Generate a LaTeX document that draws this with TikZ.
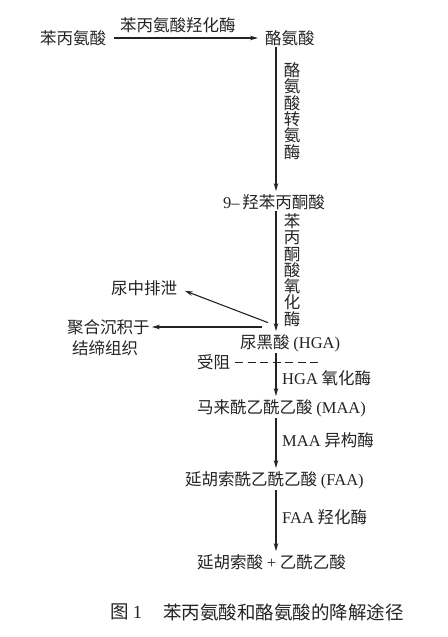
\documentclass[tikz,border=0pt]{standalone}
\usepackage{fontspec}
\setmainfont{Liberation Serif}
\newfontfamily\cjk{Noto Sans CJK SC}
\usetikzlibrary{arrows.meta}
\definecolor{ink}{RGB}{35,35,35}

\begin{document}
\begin{tikzpicture}[x=1pt,y=-1pt,
    chem/.style = {anchor=west,inner sep=0pt,text=ink,font=\cjk\fontsize{16.5}{18}\selectfont},
    enzv/.style = {align=center,inner sep=0pt,text=ink,font=\cjk\fontsize{16.5}{16.3}\selectfont},
    flow/.style = {draw=ink,line width=1.1pt,-{Stealth[length=8pt,width=4.5pt]},shorten <=1pt,shorten >=3pt}]
\useasboundingbox (0,0) rectangle (447,637);
% main chain
\node[chem] (phe)   at (40,38)   {苯丙氨酸};
\node[chem] (tyr)   at (265,38)  {酪氨酸};
\node[chem] (hpp)   at (223,202) {\rmfamily 9–\,\cjk 羟苯丙酮酸};
\node[chem] (hga)   at (240,343) {尿黑酸 {\rmfamily (HGA)}};
\node[chem] (maa)   at (197,408) {马来酰乙酰乙酸 {\rmfamily (MAA)}};
\node[chem] (faa)   at (185,480) {延胡索酰乙酰乙酸 {\rmfamily (FAA)}};
\node[chem] (prod)  at (197,562) {延胡索酸 {\rmfamily +} 乙酰乙酸};
% side branches
\node[chem] (urine)  at (111,288) {尿中排泄};
\node[chem] (depo)   at (67,327)  {聚合沉积于};
\node[chem] (tissue) at (72,348)  {结缔组织};
\node[chem] (block)  at (197,362) {受阻};
% enzymes
\node[enzv] (tat) at (292,111) {酪\\氨\\酸\\转\\氨\\酶};
\node[enzv] (hpd) at (292,270) {苯\\丙\\酮\\酸\\氧\\化\\酶};
\node[chem] (hgd) at (282,378) {{\rmfamily HGA} 氧化酶};
\node[chem] (mai) at (282,440) {{\rmfamily MAA} 异构酶};
\node[chem] (fah) at (282,517) {{\rmfamily FAA} 羟化酶};

\coordinate (ax)    at (276,0);
\coordinate (fork1) at (269,323);
\coordinate (fork2) at (263,327);
\coordinate (cut)   at (320,362);

\draw[flow,shorten <=8pt,shorten >=7pt] (phe.east) -- (tyr.west)
    node[pos=0.45,above=5pt,chem,anchor=south] (pah) {苯丙氨酸羟化酶};
\foreach \a/\b in {tyr/hpp, hpp/hga, hga/maa, maa/faa, faa/prod}
    \draw[flow] (\a.south -| ax) -- (\b.north -| ax);
\draw[flow,shorten >=8pt] (fork1) -- (urine.east);
\draw[flow,shorten >=2pt] (fork2) -- (depo.east);
\draw[draw=ink,line width=1pt,dash pattern=on 8pt off 4.5pt,shorten <=5pt] (block.east) -- (cut);

% caption
\node[chem,font=\cjk\fontsize{18.5}{20}\selectfont] (fig) at (110,612) {图 {\rmfamily 1}};
\node[chem,font=\cjk\fontsize{18.5}{20}\selectfont] (title) at (163,612) {苯丙氨酸和酪氨酸的降解途径};
\end{tikzpicture}
\end{document}
